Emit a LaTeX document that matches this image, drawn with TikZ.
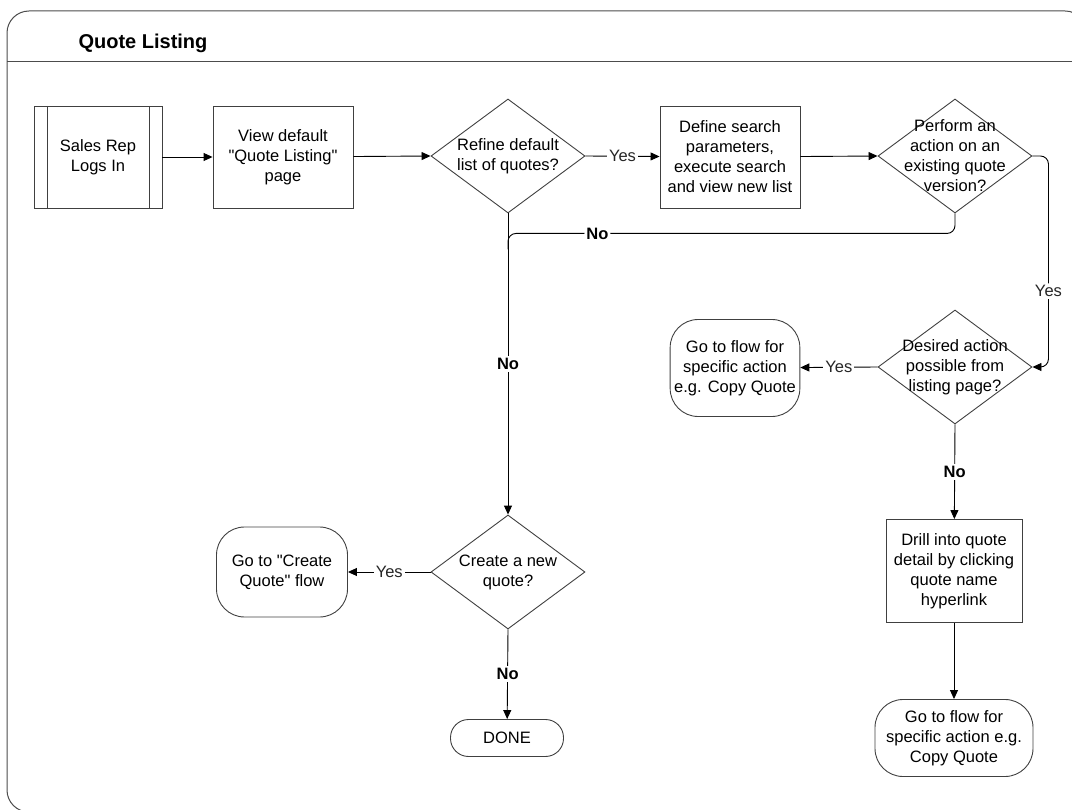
\documentclass[tikz,border=0pt]{standalone}
\usepackage{fontspec}
\setmainfont{Liberation Sans}
\usetikzlibrary{positioning,shapes.geometric,arrows.meta,calc}

\tikzset{
  every node/.style={font=\fontsize{16.5}{20}\selectfont},
  frame/.style={draw=black!70, line width=1pt},
  shapeline/.style={draw=black!75, line width=0.9pt},
  procbox/.style={shapeline, rectangle, align=center, minimum width=140pt, minimum height=102pt, inner sep=2pt},
  predefbox/.style={procbox, minimum width=128pt,
    path picture={\draw[black!75, line width=0.9pt]
      ([xshift=13pt]path picture bounding box.north west) -- ([xshift=13pt]path picture bounding box.south west)
      ([xshift=-13pt]path picture bounding box.north east) -- ([xshift=-13pt]path picture bounding box.south east);}},
  decision/.style={shapeline, diamond, minimum width=154pt, minimum height=114pt, inner sep=0pt},
  termbox/.style={shapeline, rectangle, align=center, rounded corners=28pt, inner xsep=4pt},
  flow/.style={draw=black, line width=0.9pt, -{Triangle[length=9pt,width=8pt]}},
  plain/.style={draw=black, line width=0.9pt},
  yeslbl/.style={fill=white, inner sep=2pt, text=black!85},
  nolbl/.style={fill=white, inner sep=2pt, font=\fontsize{16.5}{20}\selectfont\bfseries}
}

\begin{document}
\begin{tikzpicture}[x=1pt,y=-1pt]
  \useasboundingbox (0,0) rectangle (1072,810);

  % swimlane frame
  \draw[frame, rounded corners=22pt] (7,11) rectangle (1087,812);
  \draw[frame] (7,62) -- (1087,62);
  \node[anchor=west, font=\fontsize{20}{22}\selectfont\bfseries] (lane) at (75,43) {Quote Listing};

  % top row
  \node[predefbox] (login) at (98,157) {Sales Rep\\Logs In};
  \node[procbox] (view) at (283,157) {View default\\\textquotedbl{}Quote Listing\textquotedbl{}\\page};
  \node[decision, label={[align=center]center:{Refine default\\list of quotes?}}] (refine) at (508,156) {};
  \node[procbox] (search) at (730,157) {Define search\\parameters,\\execute search\\and view new list};
  \node[decision, label={[align=center]center:{Perform an\\action on an\\existing quote\\version?}}] (perform) at (955,156) {};

  % right column
  \node[decision, label={[align=center]center:{Desired action\\possible from\\listing page?}}] (desired) at (955,367) {};
  \node[termbox, minimum width=112pt, minimum height=97pt] (actionA) at (735,368) {Go to flow for\\specific action\\e.g. Copy Quote};
  \node[procbox, minimum width=136pt, minimum height=103pt] (drill) at (954,571) {Drill into quote\\detail by clicking\\quote name\\hyperlink};
  \node[termbox, minimum width=158pt, minimum height=77pt] (actionB) at (954,738) {Go to flow for\\specific action e.g.\\Copy Quote};

  % left column
  \node[decision, label={[align=center]center:{Create a new\\quote?}}] (create) at (508,572) {};
  \node[termbox, minimum width=131pt, minimum height=90pt] (newquote) at (282,572) {Go to \textquotedbl{}Create\\Quote\textquotedbl{} flow};
  \node[termbox, rounded corners=18pt, minimum width=113pt, minimum height=37pt] (done) at (507,738) {DONE};

  % connectors
  \draw[flow] (login) -- (view);
  \draw[flow] (view) -- (refine.west);
  \draw[flow] (refine.east) -- node[yeslbl] {Yes} (search);
  \draw[flow] (search) -- (perform.west);
  \draw[flow, rounded corners=8pt] (perform.east) -- ++(16,0) |- node[yeslbl, pos=0.32] {Yes} (desired.east);
  \coordinate (merge) at ($(refine.south)+(0,20)$);
  \draw[plain, rounded corners=8pt] (perform.south) |- node[nolbl, pos=0.9] {No} (merge) -- ++(0,16);
  \draw[flow] (refine.south) -- node[nolbl] {No} (create.north);
  \draw[flow] (create.west) -- node[yeslbl] {Yes} (newquote);
  \draw[flow] (create.south) -- node[nolbl] {No} (done);
  \draw[flow] (desired.west) -- node[yeslbl] {Yes} (actionA);
  \draw[flow] (desired.south) -- node[nolbl] {No} (drill);
  \draw[flow] (drill) -- (actionB);
\end{tikzpicture}
\end{document}
